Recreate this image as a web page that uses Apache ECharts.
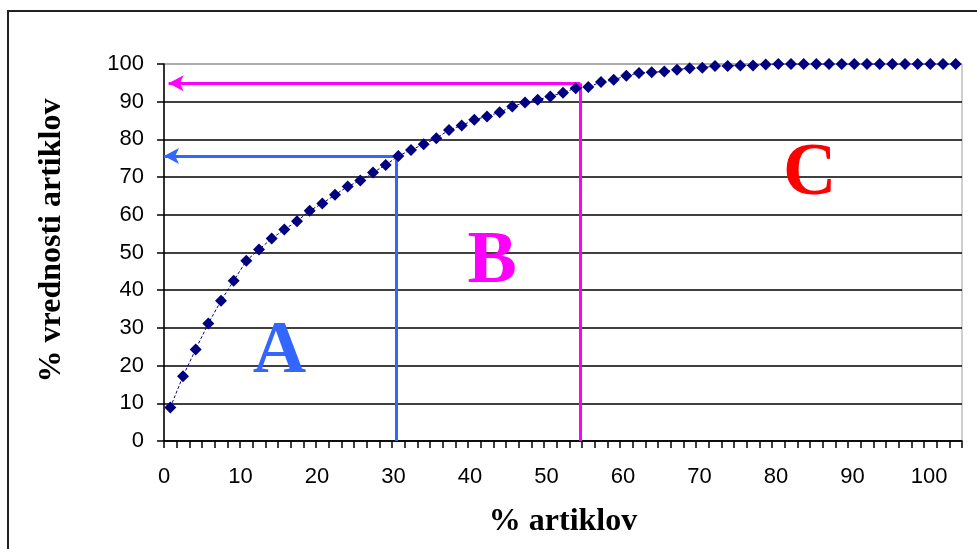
<!DOCTYPE html>
<html>
<head>
<meta charset="utf-8">
<script src="https://cdn.jsdelivr.net/npm/echarts@6/dist/echarts.min.js"></script>
<style>
  html, body { margin: 0; padding: 0; background: #fff; }
  #chart { width: 977px; height: 549px; }
</style>
</head>
<body>
<div id="chart"></div>
<script>
// articles (one category per article group)
const items = ['1','2','3','4','5','6','7','8','9','10','11','12','13','14','15','16','17','18','19','20',
  '21','22','23','24','25','26','27','28','29','30','31','32','33','34','35','36','37','38','39','40',
  '41','42','43','44','45','46','47','48','49','50','51','52','53','54','55','56','57','58','59','60',
  '61','62','63']
// cumulative % of value
const cumValue = [8.9, 17.2, 24.3, 31.2, 37.2, 42.5, 47.8, 50.8, 53.7, 56.1,
  58.3, 61.1, 63.0, 65.3, 67.5, 69.1, 71.2, 73.2, 75.6, 77.2,
  78.7, 80.3, 82.5, 83.7, 85.2, 86.1, 87.2, 88.7, 89.8, 90.5,
  91.4, 92.4, 93.6, 93.9, 95.2, 95.8, 96.9, 97.6, 97.8, 98.0,
  98.5, 98.9, 99.0, 99.5, 99.5, 99.6, 99.6, 99.9, 100, 100,
  100, 100, 100, 100, 100, 100, 100, 100, 100, 100,
  100, 100, 100]
const xTicks = [0, 10, 20, 30, 40, 50, 60, 70, 80, 90, 100]
// ABC cut-offs: [% artiklov, % vrednosti]
const cutA = [30.3, 75.6]
const cutB = [54.4, 94.9]
const groupLabels = ['A', 'B', 'C']
const groupPos = [[15.1, 23.3], [42.9, 47.2], [84.4, 70.6]]
const groupColors = ['#3366ff', '#ff00ff', '#ff0000']

const chart = echarts.init(document.getElementById('chart'))

const tickFont = { color: '#000', fontFamily: 'Liberation Sans', fontSize: 22 }
const titleFont = { color: '#000', fontFamily: 'Liberation Serif', fontWeight: 'bold', fontSize: 32 }

const gridColors = []
for (let i = 0; i < 10; i++) gridColors.push('#000')
gridColors.push('#a0a0a0')

const options = {
  animation: false,
  grid: {
    left: 164, right: 15, top: 64, bottom: 108,
    outerBoundsMode: 'none',
    containLabel: false,
    show: true, borderColor: '#a0a0a0', borderWidth: 1
  },
  graphic: [{
    type: 'rect',
    shape: { x: 8, y: 11, width: 1100, height: 700 },
    style: { fill: 'none', stroke: '#222', lineWidth: 2 },
    silent: true
  }],
  xAxis: [
    {
      type: 'category',
      position: 'bottom',
      data: items,
      boundaryGap: true,
      axisLine: { show: true, lineStyle: { color: '#000', width: 1.5 } },
      axisTick: { show: true, interval: 0, length: 7, lineStyle: { color: '#000', width: 1.5 } },
      axisLabel: { show: true, interval: 0, formatter: () => '' },
      splitLine: { show: false },
      z: 4
    },
    {
      type: 'value',
      position: 'bottom',
      min: 0,
      max: 104.3,
      interval: 10,
      axisLine: { show: false },
      axisTick: { show: false },
      splitLine: { show: false },
      axisLabel: Object.assign({ margin: 25, showMaxLabel: false,
        formatter: v => xTicks.includes(v) ? String(v) : '' }, tickFont),
      name: '% artiklov',
      nameLocation: 'middle',
      nameGap: 65,
      nameTextStyle: titleFont
    }
  ],
  yAxis: {
    type: 'value',
    min: 0,
    max: 100,
    interval: 10,
    axisLine: { show: true, lineStyle: { color: '#000', width: 1.5 } },
    axisTick: { show: true, length: 7, lineStyle: { color: '#000', width: 1.5 } },
    axisLabel: Object.assign({ margin: 20 }, tickFont),
    splitLine: { lineStyle: { color: gridColors, width: 1.5 } },
    name: '% vrednosti artiklov',
    nameLocation: 'middle',
    nameGap: 96,
    nameTextStyle: Object.assign({ padding: [0, 0, 0, 24] }, titleFont)
  },
  series: [
    {
      type: 'line',
      xAxisIndex: 0,
      data: cumValue,
      showSymbol: true,
      showAllSymbol: true,
      symbol: 'diamond',
      symbolSize: 12,
      itemStyle: { color: '#000080' },
      lineStyle: { color: '#000080', width: 1, type: [3, 2] },
      z: 5
    },
    {
      type: 'line',
      xAxisIndex: 1,
      data: [],
      markLine: {
        silent: true,
        symbol: ['none', 'none'],
        label: { show: false },
        data: [
          [{ coord: [cutA[0], 0], lineStyle: { color: groupColors[0], width: 3, type: 'solid' } },
           { coord: [cutA[0], cutA[1]] }],
          [{ coord: [cutA[0], cutA[1]], lineStyle: { color: groupColors[0], width: 3, type: 'solid' } },
           { coord: [0, cutA[1]], symbol: 'arrow', symbolSize: [12, 15] }],
          [{ coord: [cutB[0], 0], lineStyle: { color: groupColors[1], width: 3, type: 'solid' } },
           { coord: [cutB[0], cutB[1]] }],
          [{ coord: [cutB[0], cutB[1]], lineStyle: { color: groupColors[1], width: 3, type: 'solid' } },
           { coord: [0.6, cutB[1]], symbol: 'arrow', symbolSize: [12, 15] }]
        ]
      },
      markPoint: {
        silent: true,
        symbol: 'circle',
        symbolSize: 1,
        itemStyle: { color: 'rgba(0,0,0,0)' },
        data: groupLabels.map((t, i) => ({
          coord: groupPos[i],
          label: {
            show: true,
            position: 'inside',
            formatter: t,
            color: groupColors[i],
            fontFamily: 'Liberation Serif',
            fontWeight: 'bold',
            fontSize: 74
          }
        }))
      },
      z: 3
    }
  ]
}

chart.setOption(options)
</script>
</body>
</html>
